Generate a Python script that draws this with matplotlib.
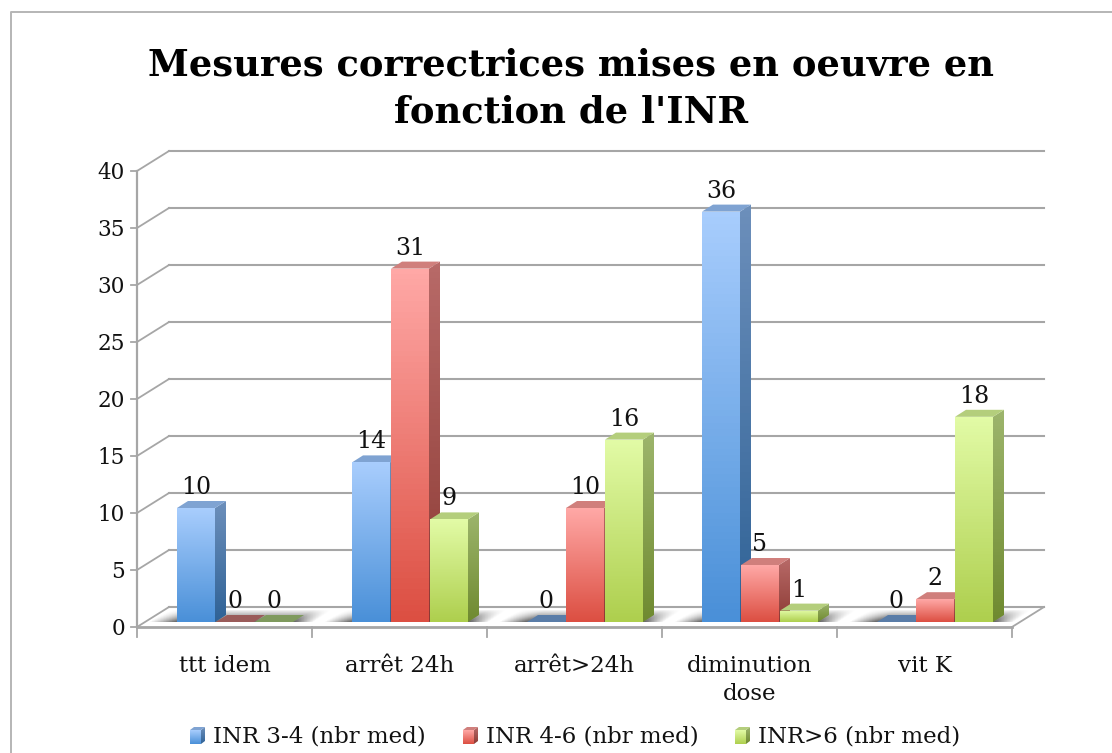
import numpy as np
import matplotlib
matplotlib.use("Agg")
import matplotlib.pyplot as plt
from matplotlib.colors import LinearSegmentedColormap
from matplotlib.patches import Polygon
from matplotlib.lines import Line2D

categories = ["ttt idem", "arrêt 24h", "arrêt>24h", "diminution\ndose", "vit K"]
series_names = ["INR 3-4 (nbr med)", "INR 4-6 (nbr med)", "INR>6 (nbr med)"]
inr_3_4 = [10, 14, 0, 36, 0]
inr_4_6 = [0, 31, 10, 5, 2]
inr_6 = [0, 9, 16, 1, 18]
y_ticks = [0, 5, 10, 15, 20, 25, 30, 35, 40]
title = "Mesures correctrices mises en oeuvre en\nfonction de l'INR"

W, H = 1112, 753
FONT = "DejaVu Serif"

# front top, front bottom, side top, side bottom, cap, flat colour when value is 0
colors = [
    ("#a8cdfd", "#4a90d8", "#6c8fbb", "#2f6296", "#7fa3d2", "#5a7da8"),
    ("#ffa8a6", "#dc4f42", "#b86a68", "#8c3a34", "#d07f7c", "#9a5c5a"),
    ("#e2fba6", "#aecf4e", "#9db56c", "#6f8a30", "#b4ce7c", "#7f9a5e"),
]

fig = plt.figure(figsize=(W / 100, H / 100), dpi=100)
# axes box is the front plane of the 3D chart
x0, x1, y0, y40 = 137, 1012, 627, 171
ax = fig.add_axes([x0 / W, 1 - y0 / H, (x1 - x0) / W, (y0 - y40) / H])
ax.set_xlim(0, 5)
ax.set_ylim(0, 40)
ax.axis("off")

px = 5 / (x1 - x0)
py = 40 / (y0 - y40)
grid_col = "#a6a6a6"


def grad(coords, c1, c2, z):
    # vertical gradient clipped to a polygon
    coords = np.array(coords)
    im = ax.imshow(np.linspace(0, 1, 64).reshape(-1, 1), origin="upper", aspect="auto",
                   cmap=LinearSegmentedColormap.from_list("g", [c1, c2]),
                   extent=[coords[:, 0].min(), coords[:, 0].max(), coords[:, 1].min(), coords[:, 1].max()],
                   zorder=z)
    poly = Polygon(coords, transform=ax.transData, facecolor="none", edgecolor="none")
    ax.add_patch(poly)
    im.set_clip_path(poly)
    im.set_clip_box(fig.bbox)


def shadow(left, right, z):
    # soft floor shadow, leaning back like the floor does
    rows, cols = 14, 120
    xx = np.linspace(0, 1, cols)
    rgba = np.zeros((rows, cols, 4))
    rgba[..., :3] = 0.33
    for r in range(rows):
        up = r / (rows - 1)
        a = np.clip((xx - up * 0.12) / 0.14, 0, 1) * np.clip((1 - xx - (1 - up) * 0.1) / 0.1, 0, 1)
        rgba[rows - 1 - r, :, 3] = a * 0.85 * (1 - up) ** 0.9
    im = ax.imshow(rgba, origin="upper", aspect="auto", extent=[left, right, 5 * py, 18 * py], zorder=z)
    im.set_clip_box(fig.bbox)


# walls
back_dx, back_dy = 32 * px, 20 * py
for t in y_ticks:
    ax.plot([back_dx, 5 + back_dx], [t + back_dy, t + back_dy], color=grid_col, lw=1.5, zorder=1, clip_on=False)
    ax.plot([0, back_dx], [t, t + back_dy], color=grid_col, lw=1.3, zorder=1, clip_on=False)
    ax.plot([-6 * px, 0], [t, t], color=grid_col, lw=1.3, zorder=1, clip_on=False)
    ax.text(-12 * px, t - 2 * py, str(t), ha="right", va="center", fontsize=15.5, family=FONT, color="#111111")
ax.plot([0, 0], [0, 40], color=grid_col, lw=1.6, zorder=1, clip_on=False)
ax.plot([0, 5], [0, 0], color=grid_col, lw=2, zorder=1, clip_on=False)
ax.plot([5, 5 + back_dx], [0, back_dy], color=grid_col, lw=1.3, zorder=1, clip_on=False)
for i in range(6):
    ax.plot([i, i], [0, -10 * py], color=grid_col, lw=1.3, zorder=1, clip_on=False)

# floor shadow under each group
for i in range(5):
    shadow(i + 12 * px, i + 196 * px, 2)

# bars
bar_w = 38 * px
depth_x, depth_y = 11 * px, 7 * py
base = 5 * py
for s, vals in enumerate([inr_3_4, inr_4_6, inr_6]):
    c = colors[s]
    for i, v in enumerate(vals):
        left = i + 40 * px + s * 39 * px
        right = left + bar_w
        top = base + v
        z = 3 + s * 0.1
        if v == 0:
            ax.add_patch(Polygon([[left, base], [right, base], [right + depth_x, base + depth_y], [left + depth_x, base + depth_y]],
                                 facecolor=c[5], edgecolor="none", zorder=z))
        else:
            grad([[right, base], [right + depth_x, base + depth_y], [right + depth_x, top + depth_y], [right, top]], c[2], c[3], z)
            grad([[left, base], [right, base], [right, top], [left, top]], c[0], c[1], z + 0.02)
            ax.add_patch(Polygon([[left, top], [right, top], [right + depth_x, top + depth_y], [left + depth_x, top + depth_y]],
                                 facecolor=c[4], edgecolor="none", zorder=z + 0.01))
        ax.text(left + 19 * px, top + 9 * py, str(v), ha="center", va="bottom", fontsize=17,
                family=FONT, color="#111111", zorder=10)

for i, c in enumerate(categories):
    ax.text(i + 0.5, -28 * py, c, ha="center", va="top", fontsize=16.5, family=FONT, color="#111111",
            linespacing=1.35)

fig.text(571 / W, 1 - 89 / H, title, ha="center", va="center", fontsize=26.6, fontweight="bold", family=FONT,
         color="black", linespacing=1.37)

# legend, swatches are small 3D bars
legend_x = [190, 463, 735]
for name, xl, c in zip(series_names, legend_x, colors):
    l = (xl - x0) * px
    r = l + 11 * px
    b = (y0 - 744) * py
    t = b + 14 * py
    grad([[r, b], [r + 4 * px, b + 3 * py], [r + 4 * px, t + 3 * py], [r, t]], c[2], c[3], 3)
    grad([[l, b], [r, b], [r, t], [l, t]], c[0], c[1], 3.1)
    ax.add_patch(Polygon([[l, t], [r, t], [r + 4 * px, t + 3 * py], [l + 4 * px, t + 3 * py]],
                         facecolor=c[4], edgecolor="none", zorder=3.1, clip_on=False))
    fig.text((xl + 23) / W, 1 - 737 / H, name, ha="left", va="center", fontsize=16.5, family=FONT, color="#111111")

# keep limits after imshow
ax.set_xlim(0, 5)
ax.set_ylim(0, 40)

# picture border
fig.add_artist(Line2D([11 / W, 11 / W, 1], [0, 1 - 12 / H, 1 - 12 / H], color="#b5b5b5", lw=1.4))

fig.savefig("out.png", dpi=100)
